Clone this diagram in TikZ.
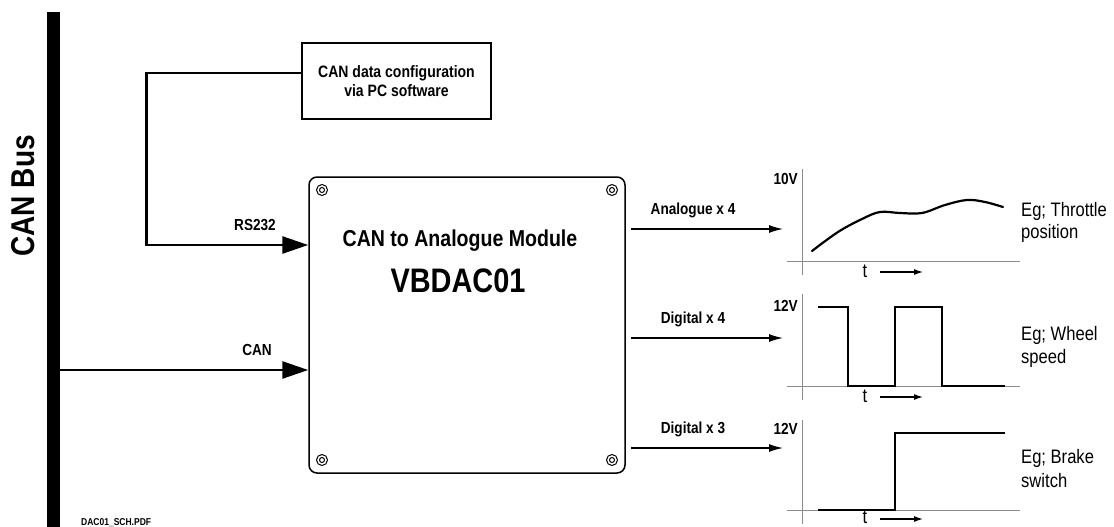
\documentclass[tikz,border=0pt]{standalone}
\usepackage{fontspec}
\setmainfont[FakeStretch=0.85]{Liberation Sans}
\usetikzlibrary{arrows.meta}

\begin{document}
\begin{tikzpicture}[x=1pt, y=-1pt, >={Latex[length=14pt,width=8pt]},
  bigarrow/.style={line width=2.6pt, -{Triangle[length=26pt,width=17pt]}},
  outarrow/.style={line width=1.3pt, ->},
  tarrow/.style={line width=1.2pt, -{Latex[length=9pt,width=6pt]}},
  lbl/.style={font=\bfseries\fontsize{16}{19}\selectfont, inner sep=0pt},
  eg/.style={font=\fontsize{19.5}{23}\selectfont, inner sep=0pt, anchor=base west},
  axisline/.style={draw=black!45, line width=0.9pt},
  signal/.style={line width=1.6pt}]
\useasboundingbox (0,0) rectangle (1114,527);
\node[fill=black, inner sep=0pt, minimum width=13, minimum height=515] (bus) at (53.5,269.5) {};
\node[rotate=90, inner sep=0pt, font=\bfseries\fontsize{33}{36}\selectfont] (buslbl) at (23,196) {CAN Bus};
\node[draw, line width=1.2pt, minimum width=189, minimum height=76, align=center, font=\bfseries\fontsize{16.5}{19}\selectfont] (cfg) at (396.5,81) {CAN data configuration\\via PC software};
\node[draw, line width=1.5pt, rounded corners=8pt, minimum width=316, minimum height=296, inner sep=0pt] (mod) at (467,325) {};
\node[anchor=base, inner sep=0pt, font=\bfseries\fontsize{23}{26}\selectfont] (title) at (460,246) {CAN to Analogue Module};
\node[anchor=base, inner sep=0pt, font=\bfseries\fontsize{34}{38}\selectfont] (part) at (458,292) {VBDAC01};
\draw[line width=1pt] (322,190) circle (5.5) (322,190) circle (2.5);
\draw[line width=1pt] (612,190) circle (5.5) (612,190) circle (2.5);
\draw[line width=1pt] (322,460) circle (5.5) (322,460) circle (2.5);
\draw[line width=1pt] (612,460) circle (5.5) (612,460) circle (2.5);
% inputs
\coordinate (rsin) at (mod.west |- 0,245);
\coordinate (canin) at (mod.west |- 0,370);
\draw[bigarrow] ([yshift=8pt]cfg.west) -- ++(-155,0) |- (rsin);
\draw[bigarrow] (bus.east |- canin) -- (canin);
\node[lbl, anchor=base] (rslbl) at (255,230) {RS232};
\node[lbl, anchor=base] (canlbl) at (257,355) {CAN};
% outputs
\coordinate (aout) at (631,229);
\coordinate (ain) at (783,229);
\coordinate (dout) at (631,338);
\coordinate (din) at (783,338);
\coordinate (bout) at (631,448);
\coordinate (bin) at (783,448);
\draw[outarrow] (aout) -- (ain);
\draw[outarrow] (dout) -- (din);
\draw[outarrow] (bout) -- (bin);
\node[lbl, anchor=base] (alfa) at (693,214) {Analogue x 4};
\node[lbl, anchor=base] (dlfa) at (693,323) {Digital x 4};
\node[lbl, anchor=base] (blfa) at (693,433) {Digital x 3};
% graph 1
\draw[axisline] (787,261) -- (1020,261);
\draw[axisline] (802,169) -- (802,275);
\node[lbl, anchor=base east] (av) at (798,184) {10V};
\node[eg, anchor=base] (at) at (865,277) {t};
\draw[tarrow] (880,272) -- (923,272);
\draw[line width=2.2pt, line cap=round] plot[smooth, tension=0.6] coordinates {(812,251) (838,232) (862,219) (880,212) (900,213) (922,213) (945,205) (967,200) (985,202) (1003,207)};
\node[eg] (aega) at (1021,216) {Eg; Throttle};
\node[eg] (aegb) at (1021,238) {position};
% graph 2
\draw[axisline] (787,386) -- (1020,386);
\draw[axisline] (802,294) -- (802,400);
\node[lbl, anchor=base east] (dv) at (798,311) {12V};
\node[eg, anchor=base] (dt) at (865,402) {t};
\draw[tarrow] (880,397) -- (923,397);
\draw[signal] (818,307) -- (848,307) -- (848,386) -- (895,386) -- (895,307) -- (942,307) -- (942,386) -- (1005,386);
\node[eg] (dega) at (1021,340) {Eg; Wheel};
\node[eg] (degb) at (1021,363) {speed};
% graph 3
\draw[axisline] (787,510) -- (1020,510);
\draw[axisline] (802,420) -- (802,524);
\node[lbl, anchor=base east] (bv) at (798,434) {12V};
\node[eg, anchor=base] (bt) at (865,523) {t};
\draw[tarrow] (880,519) -- (923,519);
\draw[signal] (818,510) -- (895,510) -- (895,433) -- (1005,433);
\node[eg] (bega) at (1021,463) {Eg; Brake};
\node[eg] (begb) at (1021,487) {switch};
\node[anchor=base west, inner sep=0pt, font=\bfseries\fontsize{10}{11}\selectfont] (docname) at (81,525) {DAC01\_SCH.PDF};
\end{tikzpicture}
\end{document}
